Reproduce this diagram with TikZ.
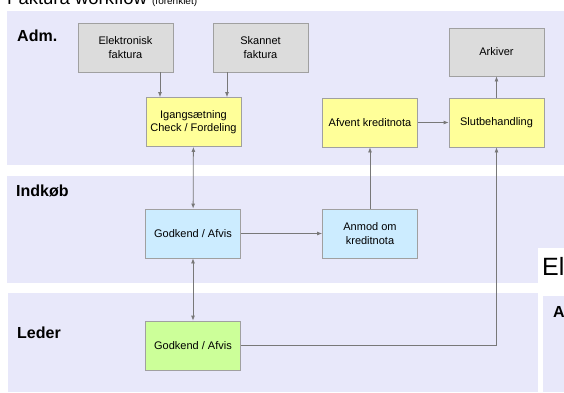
\documentclass[tikz,border=0pt]{standalone}
\usepackage{fontspec}
\setmainfont{Liberation Sans}
\usetikzlibrary{arrows.meta}
\definecolor{lanebg}{RGB}{232,232,250}
\definecolor{boxline}{RGB}{160,160,160}
\definecolor{flowline}{RGB}{120,120,120}
\definecolor{grayfill}{RGB}{220,220,220}
\definecolor{yellowfill}{RGB}{255,255,153}
\definecolor{bluefill}{RGB}{204,236,255}
\definecolor{greenfill}{RGB}{204,255,153}
\newcommand{\swimlanes}{
    \fill[lanebg] (7,11) rectangle (564,165);
    \fill[lanebg] (7,176) rectangle (564,283);
    \fill[lanebg] (8,293) rectangle (538,392);
    \fill[white] (538,248) rectangle (564,392);
    \fill[lanebg] (543,296) rectangle (564,392);
}

\begin{document}
\begin{tikzpicture}[x=1pt,y=-1pt,
    box/.style={draw=boxline, line width=0.8pt, minimum width=95pt, minimum height=49pt,
        inner sep=2pt, align=center, font=\fontsize{11}{13.3}\selectfont},
    flow/.style={draw=flowline, line width=0.8pt, -{Latex[length=5pt,width=4pt]}},
    twoway/.style={flow, {Latex[length=5pt,width=4pt]}-{Latex[length=5pt,width=4pt]}},
    lanename/.style={anchor=base west, inner sep=0pt, font=\fontsize{16}{16}\selectfont\bfseries}]
        \useasboundingbox (0,0) rectangle (564,392);
        \clip (0,0) rectangle (564,392);
        \swimlanes
        \node[anchor=base west, inner sep=0pt, font=\fontsize{18.5}{18.5}\selectfont] (title) at (7,4)
            {Faktura workflow {\fontsize{10}{10}\selectfont(forenklet)}};
        \node[lanename] (adm) at (17,41) {Adm.};
        \node[lanename] (indkob) at (16,196) {Indkøb};
        \node[lanename] (leder) at (17,338) {Leder};
        \node[anchor=base west, inner sep=0pt, font=\fontsize{25}{25}\selectfont] (el) at (542,275) {El};
        \node[lanename] (a) at (553,317) {A};

        \node[box, fill=grayfill] (elek) at (125.5,47.5) {Elektronisk\\faktura};
        \node[box, fill=grayfill] (skan) at (260.5,47.5) {Skannet\\faktura};
        \node[box, fill=grayfill, minimum height=48pt] (arkiv) at (496.5,52) {Arkiver};
        \node[box, fill=yellowfill] (igang) at (193.5,122) {Igangsætning\\Check / Fordeling};
        \node[box, fill=yellowfill] (afvent) at (370,122.5) {Afvent kreditnota};
        \node[box, fill=yellowfill] (slut) at (496.5,122.5) {Slutbehandling};
        \node[box, fill=bluefill] (godind) at (193,233.5) {Godkend / Afvis};
        \node[box, fill=bluefill] (anmod) at (370,233.5) {Anmod om\\kreditnota};
        \node[box, fill=greenfill] (godled) at (193,345.5) {Godkend / Afvis};

        \draw[flow] ([xshift=34.5pt]elek.south) -- ([xshift=34.5pt]elek.south |- igang.north);
        \draw[flow] ([xshift=-33.5pt]skan.south) -- ([xshift=-33.5pt]skan.south |- igang.north);
        \draw[twoway] (igang) -- (godind);
        \draw[twoway] (godind) -- (godled);
        \draw[flow] (godind) -- (anmod);
        \draw[flow] (anmod) -- (afvent);
        \draw[flow] (afvent) -- (slut);
        \draw[flow] (slut) -- (arkiv);
        \draw[flow] (godled.east) -| (slut.south);
    \end{tikzpicture}
\end{document}
